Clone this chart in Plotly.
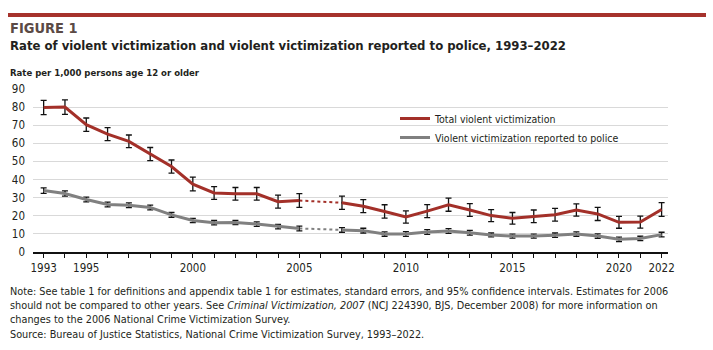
import plotly.graph_objects as go

years = [1993, 1994, 1995, 1996, 1997, 1998, 1999, 2000, 2001, 2002, 2003, 2004, 2005,
         2006, 2007, 2008, 2009, 2010, 2011, 2012, 2013, 2014, 2015, 2016, 2017, 2018,
         2019, 2020, 2021, 2022]
total = [79.8, 80.0, 70.3, 65.1, 61.1, 54.1, 47.2, 37.5, 32.6, 32.1, 32.1, 27.8, 28.4,
         None, 27.2, 25.3, 22.4, 19.3, 22.6, 26.1, 23.2, 20.1, 18.6, 19.7, 20.6, 23.2,
         21.0, 16.4, 16.5, 23.5]
total_ci = [3.9, 4.0, 3.7, 3.6, 3.5, 3.6, 3.6, 3.8, 3.5, 3.5, 3.5, 3.6, 3.8,
            None, 3.7, 3.6, 3.7, 3.4, 3.6, 3.6, 3.5, 3.3, 3.2, 3.5, 3.5, 3.4,
            3.6, 3.3, 3.3, 3.8]
police = [33.9, 32.3, 29.0, 26.2, 25.8, 24.6, 20.5, 17.4, 16.2, 16.3, 15.4, 14.0, 13.0,
          None, 12.2, 11.8, 9.9, 9.9, 11.0, 11.6, 10.6, 9.4, 8.8, 8.8, 9.3, 9.9,
          8.8, 7.0, 7.5, 9.6]
police_ci = [1.5, 1.5, 1.3, 1.3, 1.3, 1.3, 1.3, 1.2, 1.2, 1.2, 1.2, 1.2, 1.3,
             None, 1.3, 1.3, 1.2, 1.3, 1.3, 1.3, 1.3, 1.1, 1.1, 1.1, 1.2, 1.2,
             1.2, 1.2, 1.2, 1.3]
tick_labels = {1993: "1993", 1995: "1995", 2000: "2000", 2005: "2005",
               2010: "2010", 2015: "2015", 2020: "2020", 2022: "2022"}
gap_from, gap_to = 2005, 2007
legend_names = ["Total violent victimization", "Violent victimization reported to police"]

RED = "#a33029"
GRAY = "#808080"
TXT = "#231f20"
FONT = "Liberation Sans Narrow, DejaVu Sans Condensed, Arial Narrow, sans-serif"

fig = go.Figure()

i0, i1 = years.index(gap_from), years.index(gap_to)
for vals, ci, col in [(total, total_ci, RED), (police, police_ci, GRAY)]:
    # dotted bridge across 2006
    fig.add_trace(go.Scatter(x=[years[i0], years[i1]], y=[vals[i0], vals[i1]],
                             mode="lines", line=dict(color=col, width=2, dash="dot"),
                             showlegend=False, hoverinfo="skip"))
    fig.add_trace(go.Scatter(x=years, y=vals, mode="lines", connectgaps=False,
                             line=dict(color=col, width=3),
                             error_y=dict(type="data", array=ci, visible=True,
                                          color="#111111", thickness=1.3, width=3),
                             showlegend=False))

for name, col in zip(legend_names, [RED, GRAY]):
    fig.add_trace(go.Scatter(x=[None], y=[None], mode="lines", name=name,
                             line=dict(color=col, width=3)))

W, H = 713, 350
L, R, T, B = 33, 45, 89, 98
pw, ph = W - L - R, H - T - B


def px(x):
    return (x - L) / pw


def py(y):
    return (H - B - y) / ph


fig.update_layout(
    width=W, height=H,
    margin=dict(l=L, r=R, t=T, b=B, pad=0),
    paper_bgcolor="white", plot_bgcolor="white",
    font=dict(family=FONT, size=11, color=TXT),
    showlegend=True,
    legend=dict(x=px(395), y=py(104), xanchor="left", yanchor="top",
                bgcolor="rgba(0,0,0,0)", font=dict(size=10.5, color=TXT),
                itemwidth=30, tracegroupgap=0),
    xaxis=dict(range=[1992.5, 2022.3], tickmode="array", tickvals=years,
               ticktext=[tick_labels.get(y, "") for y in years],
               showgrid=False, showline=True, linecolor="#111111", linewidth=1.5,
               ticks="outside", ticklen=4, tickcolor="#111111", tickwidth=1,
               tickfont=dict(size=11.5, color=TXT), zeroline=False, fixedrange=True),
    yaxis=dict(range=[0, 90], tickvals=list(range(0, 91, 10)), showgrid=True,
               gridcolor="#d9d9d9", gridwidth=1, showline=False, zeroline=False,
               ticks="", tickfont=dict(size=11.5, color=TXT), ticklabelstandoff=7,
               fixedrange=True),
    shapes=[dict(type="line", xref="paper", yref="paper", x0=px(8), x1=px(706),
                 y0=py(15), y1=py(15), line=dict(color="#a6322c", width=4))],
)

ann = [
    ("<b>FIGURE 1</b>", 28, 14.5, "#5b4a45"),
    ("<b>Rate of violent victimization and violent victimization reported to police, 1993–2022</b>", 46, 13, TXT),
    ("<b>Rate per 1,000 persons age 12 or older</b>", 73, 9.5, TXT),
    ("Note: See table 1 for definitions and appendix table 1 for estimates, standard errors, and 95% confidence intervals. Estimates for 2006", 291, 10.8, TXT),
    ("should not be compared to other years. See <i>Criminal Victimization, 2007</i> (NCJ 224390, BJS, December 2008) for more information on", 305, 10.8, TXT),
    ("changes to the 2006 National Crime Victimization Survey.", 319, 10.8, TXT),
    ("Source: Bureau of Justice Statistics, National Crime Victimization Survey, 1993–2022.", 334, 10.8, TXT),
]
for text, y, size, col in ann:
    fig.add_annotation(text=text, xref="paper", yref="paper", x=px(8), y=py(y),
                       xanchor="left", yanchor="middle", showarrow=False,
                       font=dict(size=size, color=col, family=FONT))

fig.write_html("out.html")
